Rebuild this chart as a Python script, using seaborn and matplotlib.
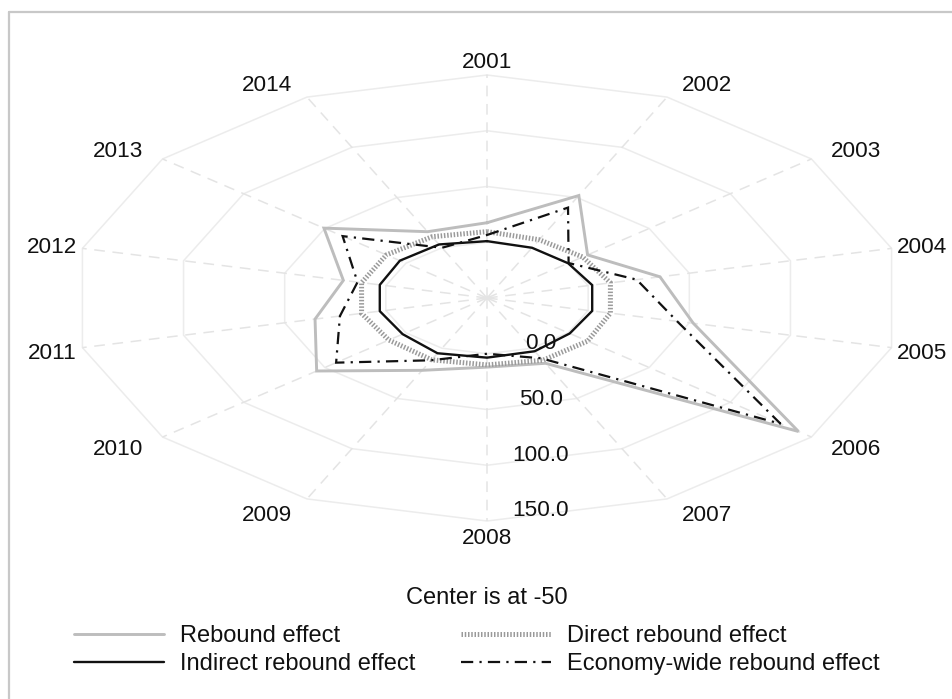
import numpy as np
import pandas as pd
import seaborn as sns
import matplotlib.pyplot as plt
from matplotlib.lines import Line2D

# Rebound effects by year (percent); the radar centre sits at -50
years = [2001, 2002, 2003, 2004, 2005, 2006, 2007,
         2008, 2009, 2010, 2011, 2012, 2013, 2014]
rebound = [17.5, 52, 12, 35.5, 52, 142, 15, 12, 22, 55, 35, 21, 50.5, 16]
direct = [9.5, 8, 9, 11, 11, 12, 12, 10, 11.5, 10.5, 12, 12, 12, 11]
indirect = [1, 0, 0, 2, 2, 1, 3, 3.5, 5, 2, 3, 3, 3.7, 3.3]
economy_wide = [6.5, 40, 0.3, 24, 44, 131, 10, 0, 12, 43, 22.7, 14, 39, 0]
ring_values = [0, 50, 100, 150]
center_value = -50

sns.set_theme(style="white")
plt.rcParams["font.family"] = ["Liberation Sans", "DejaVu Sans"]
FS_AXIS = 16.2
FS_LEG = 17

W, H = 953, 699
fig = plt.figure(figsize=(W / 100, H / 100), dpi=100)
ax = fig.add_axes([0, 0, 1, 1])

# stretched radar: pixel centre and pixels per value unit along x / y
CX, CY = 487, 298
SX, SY = 415 / 200, 223 / 200
ax.set_xlim(-CX / SX, (W - CX) / SX)
ax.set_ylim(-(H - CY) / SY, CY / SY)
ax.axis("off")

n = len(years)
theta = 2 * np.pi * np.arange(n) / n
r_max = ring_values[-1] - center_value


def polar_xy(values):
    r = np.asarray(values, dtype=float) - center_value
    x = r * np.sin(theta)
    y = r * np.cos(theta)
    return np.append(x, x[0]), np.append(y, y[0])


# grid: rings and spokes
grid_col = "#ececec"
for v in ring_values:
    rx, ry = polar_xy([v] * n)
    ax.plot(rx, ry, color=grid_col, lw=1.1, zorder=1)
for t in theta:
    ax.plot([0, r_max * np.sin(t)], [0, r_max * np.cos(t)],
            color="#e4e4e4", lw=1.1, ls=(0, (7, 5)), zorder=1)

series = [
    ("Rebound effect", rebound, dict(color="#bdbdbd", lw=2.1, ls="-")),
    ("Direct rebound effect", direct,
     dict(color="#9a9a9a", lw=3.6, ls=(0, (0.3, 0.35)))),
    ("Indirect rebound effect", indirect, dict(color="#111111", lw=1.7, ls="-")),
    ("Economy-wide rebound effect", economy_wide,
     dict(color="#111111", lw=1.6, ls=(0, (5.5, 2.8, 1.0, 2.8)))),
]

handles = {}
for z, (name, vals, st) in enumerate(series):
    x, y = polar_xy(vals)
    df = pd.DataFrame({"x": x, "y": y})
    sns.lineplot(data=df, x="x", y="y", sort=False, estimator=None,
                 color=st["color"], lw=st["lw"], ax=ax, zorder=3 + z)
    line = ax.lines[-1]
    line.set_linestyle(st["ls"])
    line.set_solid_joinstyle("miter")
    line.set_dash_joinstyle("miter")
    handles[name] = Line2D([], [], color=st["color"], lw=st["lw"], ls=st["ls"])

# year labels around the outer ring
for yr, t in zip(years, theta):
    px, py = r_max * np.sin(t), r_max * np.cos(t)
    s, c = np.sin(t), np.cos(t)
    dy = -(-15.5 * c + 2.5)
    if abs(s) < 0.05:
        ha, dx = "center", 0
    else:
        dx = np.sign(s) * (26 * abs(np.sin(2 * t)) - 6)
        ha = "left" if s > 0 else "right"
    ax.annotate(str(yr), (px, py), xytext=(dx, dy), textcoords="offset pixels",
                ha=ha, va="center", fontsize=FS_AXIS, color="#111111", zorder=10)

# ring value labels beside the bottom spoke
for v in ring_values:
    r = v - center_value
    ax.annotate(f"{v:.1f}", (0, -r), xytext=(54, 10), textcoords="offset pixels",
                ha="center", va="center", fontsize=FS_AXIS, color="#111111",
                zorder=10)

fig.text(CX / W, 1 - 598 / H, "Center is at -50", ha="center", va="center",
         fontsize=FS_LEG, color="#111111")

order = ["Rebound effect", "Indirect rebound effect",
         "Direct rebound effect", "Economy-wide rebound effect"]
leg = fig.legend([handles[k] for k in order], order, ncol=2, frameon=False,
                 loc="upper left", bbox_to_anchor=(74 / W, 1 - 625 / H),
                 borderaxespad=0, borderpad=0,
                 fontsize=FS_LEG, handlelength=3.8, handletextpad=0.68,
                 columnspacing=1.95, labelspacing=0.27)
for t in leg.get_texts():
    t.set_color("#111111")

# outer frame
fig.add_artist(Line2D([9 / W, 9 / W], [0, 1 - 12 / H], color="#c8c8c8",
                      lw=1.6, transform=fig.transFigure))
fig.add_artist(Line2D([9 / W, 1], [1 - 12 / H, 1 - 12 / H], color="#c8c8c8",
                      lw=1.6, transform=fig.transFigure))

fig.savefig("out.png", dpi=100, facecolor="white")
